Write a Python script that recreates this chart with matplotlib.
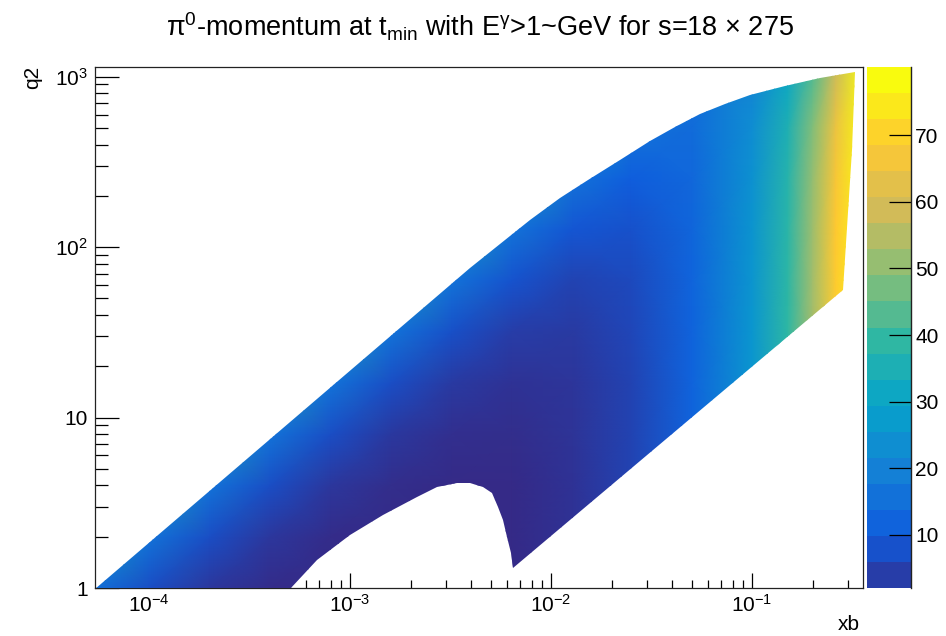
import numpy as np
import matplotlib
matplotlib.use('Agg')
import matplotlib.pyplot as plt
from matplotlib.colors import LinearSegmentedColormap, ListedColormap, Normalize, BoundaryNorm
from matplotlib.patches import Polygon
from matplotlib.ticker import FixedLocator, FixedFormatter, LogLocator, NullFormatter
import matplotlib as mpl

plt.rcParams['font.family'] = ['Liberation Sans', 'DejaVu Sans']
plt.rcParams['mathtext.fontset'] = 'custom'
plt.rcParams['mathtext.rm'] = 'Liberation Sans'
plt.rcParams['mathtext.it'] = 'Liberation Sans:italic'
plt.rcParams['mathtext.sf'] = 'Liberation Sans'

# ---------------- data ----------------
xb_nodes = [5.3e-5, 1e-4, 2e-4, 4e-4, 8e-4, 1.6e-3, 3.2e-3, 6.4e-3, 1.28e-2,
            2.5e-2, 5e-2, 0.1, 0.15, 0.2, 0.26, 0.36]
q2_nodes = [1, 2, 4, 8, 16, 32, 64, 128, 256, 512, 1150]

# pi0 momentum [GeV], rows follow q2_nodes, columns follow xb_nodes
momentum = [
    [17.2, 9.1, 4.6, 2.4, 1.3, 1.0, 1.2, 1.9, 3.6, 6.9, 13.8, 27.5, 41.2, 55.0, 71.5, 99.0],
    [34.3, 18.2, 9.1, 4.6, 2.5, 1.6, 1.4, 2.0, 3.6, 6.9, 13.8, 27.5, 41.2, 55.0, 71.5, 99.0],
    [68.6, 36.3, 18.2, 9.2, 4.7, 2.7, 2.0, 2.3, 3.8, 7.0, 13.8, 27.5, 41.2, 55.0, 71.5, 99.0],
    [80.0, 72.6, 36.3, 18.2, 9.2, 4.9, 3.0, 2.8, 4.0, 7.1, 13.8, 27.5, 41.2, 54.9, 71.4, 98.9],
    [80.0, 80.0, 72.6, 36.3, 18.2, 9.3, 5.2, 3.8, 4.4, 7.2, 13.8, 27.4, 41.1, 54.9, 71.3, 98.8],
    [80.0, 80.0, 80.0, 72.4, 36.1, 18.2, 9.5, 5.9, 5.4, 7.6, 13.9, 27.4, 41.0, 54.7, 71.2, 98.6],
    [80.0, 80.0, 80.0, 80.0, 72.1, 35.9, 18.2, 10.0, 7.2, 8.3, 14.0, 27.2, 40.8, 54.4, 70.8, 98.3],
    [80.0, 80.0, 80.0, 80.0, 80.0, 71.4, 35.5, 18.2, 10.8, 9.8, 14.3, 26.9, 40.2, 53.8, 70.2, 97.5],
    [80.0, 80.0, 80.0, 80.0, 80.0, 80.0, 70.1, 34.6, 18.2, 12.6, 14.9, 26.3, 39.2, 52.6, 68.8, 96.1],
    [80.0, 80.0, 80.0, 80.0, 80.0, 80.0, 80.0, 67.4, 32.8, 18.4, 16.0, 25.0, 37.2, 50.2, 66.2, 93.2],
    [80.0, 80.0, 80.0, 80.0, 80.0, 80.0, 80.0, 80.0, 69.2, 32.7, 18.7, 22.0, 32.2, 44.3, 59.6, 85.9],
]

# outline of the filled (xb, q2) region
# bottom edge + hole (left to right)
hole_xb = [5.38e-5, 5.03e-4, 6.83e-4, 1.0e-3, 1.464e-3, 2.147e-3, 2.70e-3, 3.395e-3,
           3.95e-3, 4.60e-3, 5.07e-3, 5.47e-3, 5.79e-3, 6.06e-3, 6.30e-3, 6.49e-3]
hole_q2 = [0.99, 0.99, 1.46, 2.05, 2.68, 3.43, 3.90, 4.12,
           4.15, 3.93, 3.60, 3.0, 2.51, 2.0, 1.60, 1.305]
# lower straight edge and right edge (going up)
right_xb = [0.284, 0.314, 0.3254]
right_q2 = [56, 372, 1066]
# upper edge (right to left)
upper_xb = [0.2181, 0.1459, 0.0977, 0.0734, 0.0551, 0.0414, 0.0311, 0.0220,
            0.01528, 0.01109, 7.86e-3, 5.58e-3, 3.95e-3, 5.38e-5]
upper_q2 = [983, 886, 776, 693, 605, 508, 420, 325,
            248, 194, 144, 104, 75.5, 0.99]

z_min, z_max = 2.05, 80.2
n_levels = 20
cbar_ticks = [10, 20, 30, 40, 50, 60, 70]
x_ticks = [1e-4, 1e-3, 1e-2, 1e-1]
x_ticklabels = [r'$10^{-4}$', r'$10^{-3}$', r'$10^{-2}$', r'$10^{-1}$']
y_ticks = [1, 10, 100, 1000]
y_ticklabels = ['1', '10', r'$10^{2}$', r'$10^{3}$']

# ROOT kBird palette
bird_stops = [0.0, 0.125, 0.25, 0.375, 0.5, 0.625, 0.75, 0.875, 1.0]
bird_r = [0.2082, 0.0592, 0.0780, 0.0232, 0.1802, 0.5301, 0.8186, 0.9956, 0.9764]
bird_g = [0.1664, 0.3599, 0.5041, 0.6419, 0.7178, 0.7492, 0.7328, 0.7862, 0.9832]
bird_b = [0.5293, 0.8684, 0.8385, 0.7914, 0.6425, 0.4662, 0.3499, 0.1968, 0.0539]
bird = LinearSegmentedColormap.from_list(
    'bird', list(zip(bird_stops, zip(bird_r, bird_g, bird_b))), N=256)

# ---------------- figure ----------------
W, H = 946, 636
fig = plt.figure(figsize=(W / 100, H / 100), dpi=100)
fig.patch.set_facecolor('white')

ax_l, ax_r, ax_t, ax_b = 95, 863, 67, 588
ax = fig.add_axes([ax_l / W, 1 - ax_b / H, (ax_r - ax_l) / W, (ax_b - ax_t) / H])
ax.set_xscale('log')
ax.set_yscale('log')
ax.set_xlim(5.38e-5, 0.356)
ax.set_ylim(1, 1140)

X, Y = np.meshgrid(xb_nodes, q2_nodes)
C = np.array(momentum)
mesh = ax.pcolormesh(X, Y, C, shading='gouraud', cmap=bird,
                     norm=Normalize(z_min, z_max), zorder=3)
region_xb = hole_xb + right_xb + upper_xb
region_q2 = hole_q2 + right_q2 + upper_q2
clip = Polygon(np.column_stack([region_xb, region_q2]), closed=True,
               transform=ax.transData, facecolor='none', edgecolor='none')
mesh.set_clip_path(clip)

for s in ax.spines.values():
    s.set_linewidth(0.9)
    s.set_color('#222222')

ax.xaxis.set_major_locator(FixedLocator(x_ticks))
ax.xaxis.set_major_formatter(FixedFormatter(x_ticklabels))
ax.xaxis.set_minor_locator(LogLocator(base=10, subs=np.arange(2, 10), numticks=20))
ax.xaxis.set_minor_formatter(NullFormatter())
ax.yaxis.set_major_locator(FixedLocator(y_ticks))
ax.yaxis.set_major_formatter(FixedFormatter(y_ticklabels))
ax.yaxis.set_minor_locator(LogLocator(base=10, subs=np.arange(2, 10), numticks=20))
ax.yaxis.set_minor_formatter(NullFormatter())

ax.tick_params(axis='x', which='major', direction='in', length=11, width=0.9,
               top=False, pad=4, labelsize=15)
ax.tick_params(axis='x', which='minor', direction='in', length=6, width=0.9, top=False)
ax.tick_params(axis='y', which='major', direction='in', length=17, width=0.9,
               right=False, pad=5, labelsize=15)
ax.tick_params(axis='y', which='minor', direction='in', length=9, width=0.9, right=False)

# colour bar (20 discrete contours like ROOT)
cax = fig.add_axes([867 / W, 1 - ax_b / H, 44 / W, (ax_b - ax_t) / H])
levels = np.linspace(z_min, z_max, n_levels + 1)
band_cols = [bird(int((i + 0.99) * 255 / n_levels) / 254.0) for i in range(n_levels)]
cb = mpl.colorbar.ColorbarBase(cax, cmap=ListedColormap(band_cols),
                               norm=BoundaryNorm(levels, n_levels),
                               spacing='proportional', ticks=cbar_ticks)
cb.outline.set_visible(False)
cax.plot([1, 1], [0, 1], transform=cax.transAxes, color='#222222', lw=1.0, clip_on=False)
cax.yaxis.set_ticks_position('right')
cax.tick_params(axis='y', direction='in', length=16, width=0.9, pad=3, labelsize=15)
cax.set_yticklabels([str(t) for t in cbar_ticks])
cax.minorticks_off()

# texts
fig.text(480 / W, 1 - 27 / H,
         r'$\mathrm{\pi}^{0}$-momentum at t$_{\mathrm{min}}$ with E$^{\mathrm{\gamma}}$>1~GeV for s=18 $\times$ 275',
         ha='center', va='center', fontsize=19.5)
fig.text(33 / W, 1 - 77 / H, 'q2', rotation=90, ha='center', va='center', fontsize=15)
fig.text(849 / W, 1 - 625 / H, 'xb', ha='center', va='center', fontsize=15)

fig.savefig('out.png', dpi=100, facecolor='white')
